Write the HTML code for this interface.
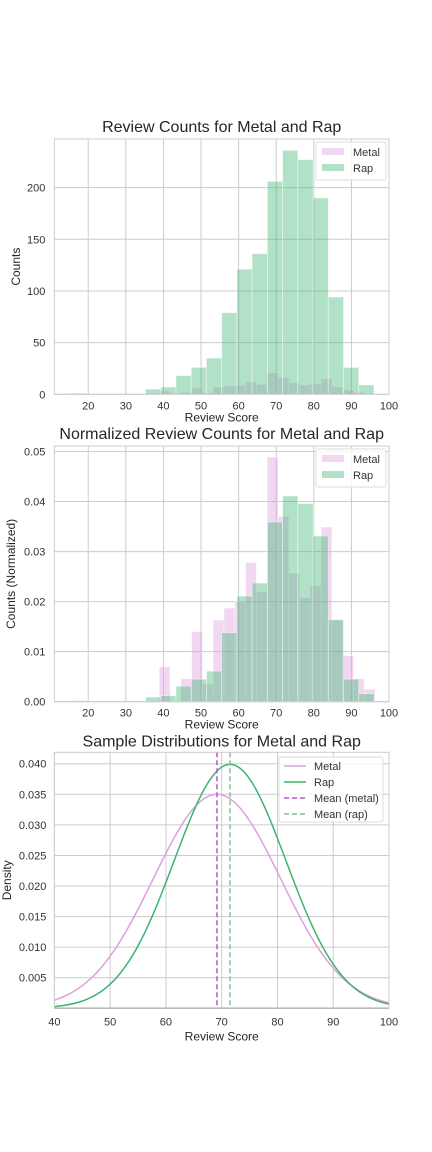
<!DOCTYPE html>
<html><head><meta charset="utf-8"><style>
body{margin:0;background:#fff;}
svg{display:block;font-family:"Liberation Sans",sans-serif;}
</style></head><body>
<svg id="c" width="432" height="1152" viewBox="0 0 432 1152"></svg>
<script>
// ---- data ----
const rapEdgeStart = 15, rapBinW = 4.05;
const rapCounts = [1,0,0,0,0,5,7,18,26,35,79,121,136,206,236,227,190,94,26,9];
const rapDensity = [0.0002,0,0,0,0,0.0009,0.0012,0.0031,0.0045,0.0061,0.0138,0.0211,0.0237,0.0359,0.0411,0.0396,0.0331,0.0164,0.0045,0.0016];
const metalEdgeStart = 38.9, metalBinW = 2.87;
const metalCounts = [3,0,2,6,1.5,7,8,8.6,12,9.5,21,16,11,9,10,15,7,4,2,1];
const metalDensity = [0.007,0,0.0046,0.014,0.0035,0.0163,0.0187,0.02,0.0278,0.022,0.0489,0.037,0.0257,0.0208,0.0232,0.0349,0.0163,0.0092,0.0046,0.0025];
const countTicks = [0,50,100,150,200];
const densTicks = [0,0.01,0.02,0.03,0.04,0.05];
const densTickLabels = ["0.00","0.01","0.02","0.03","0.04","0.05"];
const xTicks1 = [20,30,40,50,60,70,80,90,100];
const xTicks3 = [40,50,60,70,80,90,100];
const pdfTicks = [0.005,0.010,0.015,0.020,0.025,0.030,0.035,0.040];
const pdfTickLabels = ["0.005","0.010","0.015","0.020","0.025","0.030","0.035","0.040"];
const metalMean = 69.15, metalSd = 11.4;
const rapMean = 71.5, rapSd = 10.0;

const svg = document.getElementById('c');
const NS = 'http://www.w3.org/2000/svg';
function el(tag, attrs, parent){const e=document.createElementNS(NS,tag);for(const k in attrs)e.setAttribute(k,attrs[k]);(parent||svg).appendChild(e);return e;}
function txt(s, attrs, parent){const e=el('text',attrs,parent);e.textContent=s;return e;}

const METAL='rgba(221,160,221,0.42)', RAP='rgba(60,179,113,0.40)';
const L=54.4, R=389;

function histChart(o){
  const g=el('g',{});
  
  
  const xs=d=>L+(d-o.xmin)*(R-L)/(o.xmax-o.xmin);
  const ys=v=>o.bot-(v-o.ymin)*(o.bot-o.top)/(o.ymax-o.ymin);
  // grid
  o.xticks.forEach(t=>{const l=el('line',{x1:xs(t),x2:xs(t),y1:o.top,y2:o.bot,stroke:'#cccccc','stroke-width':1},g);
    
    const tl=txt(String(t),{x:xs(t),y:o.bot+15,'text-anchor':'middle','font-size':11,fill:'#333'},g);
    });
  o.yticks.forEach((t,i)=>{const l=el('line',{x1:L,x2:R,y1:ys(t),y2:ys(t),stroke:'#cccccc','stroke-width':1},g);
    
    const tl=txt(o.ylabels[i],{x:L-9,y:ys(t)+4,'text-anchor':'end','font-size':11,fill:'#333'},g);
    });
  // bars
  o.metal.forEach((v,i)=>{if(!v)return;const x0=xs(metalEdgeStart+i*metalBinW),x1=xs(metalEdgeStart+(i+1)*metalBinW);
    const b=el('rect',{x:x0,y:ys(v),width:x1-x0,height:ys(0)-ys(v),fill:METAL,stroke:'rgba(255,255,255,0.5)','stroke-width':0.8},g);
    });
  o.rap.forEach((v,i)=>{if(!v)return;const x0=xs(rapEdgeStart+i*rapBinW),x1=xs(rapEdgeStart+(i+1)*rapBinW);
    const b=el('rect',{x:x0,y:ys(v),width:x1-x0,height:ys(0)-ys(v),fill:RAP,stroke:'rgba(255,255,255,0.5)','stroke-width':0.8},g);
    });
  const fr=el('rect',{x:L,y:o.top,width:R-L,height:o.bot-o.top,fill:'none',stroke:'#cccccc','stroke-width':1},g);
  
  const tt=txt(o.title,{x:(L+R)/2,y:o.top-7,'text-anchor':'middle','font-size':16,fill:'#262626'},g);
  
  const xl=txt('Review Score',{x:(L+R)/2,y:o.bot+27,'text-anchor':'middle','font-size':12,fill:'#262626'},g);
  
  const cy=(o.top+o.bot)/2;
  const yl=txt(o.ylabel,{x:o.ylx,y:cy,'text-anchor':'middle','font-size':12,fill:'#262626',transform:`rotate(-90 ${o.ylx} ${cy})`},g);
  
  // legend
  const lg=el('g',{},g);
  el('rect',{x:316,y:o.top+3,width:70,height:38,rx:2,fill:'rgba(255,255,255,0.8)',stroke:'#dddddd'},lg);
  [['Metal',METAL],['Rap',RAP]].forEach((e,i)=>{
    const it=el('g',{},lg);
    el('rect',{x:322,y:o.top+9+i*16,width:22,height:7,fill:e[1]},it);
    txt(e[0],{x:353,y:o.top+17+i*16,'font-size':11,fill:'#333'},it);});
}
histChart({name:'review-counts-chart',title:'Review Counts for Metal and Rap',top:139,bot:394.3,xmin:11,xmax:100,ymin:0,ymax:247,
  xticks:xTicks1,yticks:countTicks,ylabels:countTicks.map(String),metal:metalCounts,rap:rapCounts,ylabel:'Counts',ylx:20});
histChart({name:'normalized-counts-chart',title:'Normalized Review Counts for Metal and Rap',top:446,bot:701.7,xmin:11,xmax:100,ymin:0,ymax:0.0511,
  xticks:xTicks1,yticks:densTicks,ylabels:densTickLabels,metal:metalDensity,rap:rapDensity,ylabel:'Counts (Normalized)',ylx:15});

// chart 3
(function(){
  const g=el('g',{});
  const top=752.3,bot=1008.3;
  const xs=d=>L+(d-40)*(R-L)/60;
  const ys=v=>1008.3-v*6114;
  xTicks3.forEach(t=>{const l=el('line',{x1:xs(t),x2:xs(t),y1:top,y2:bot,stroke:'#cccccc'},g);
    
    const tl=txt(String(t),{x:xs(t),y:bot+17,'text-anchor':'middle','font-size':11,fill:'#333'},g);
    });
  pdfTicks.forEach((t,i)=>{const l=el('line',{x1:L,x2:R,y1:ys(t),y2:ys(t),stroke:'#cccccc'},g);
    
    const tl=txt(pdfTickLabels[i],{x:L-8,y:ys(t)+4,'text-anchor':'end','font-size':11,fill:'#333'},g);
    });
  const pdf=(x,m,s)=>Math.exp(-0.5*((x-m)/s)**2)/(s*Math.sqrt(2*Math.PI));
  function curve(m,s,col,name){let d='';for(let x=40;x<=100.001;x+=0.25){d+=(d?'L':'M')+xs(x).toFixed(2)+','+ys(pdf(x,m,s)).toFixed(2);}
    const p=el('path',{d:d,fill:'none',stroke:col,'stroke-width':1.5},g);}
  curve(metalMean,metalSd,'#dda0dd','metal-curve');
  curve(rapMean,rapSd,'#3cb371','rap-curve');
  const m1=el('line',{x1:xs(metalMean),x2:xs(metalMean),y1:top,y2:bot,stroke:'#ba55d3','stroke-width':1.5,'stroke-dasharray':'5,3'},g);
  
  const m2=el('line',{x1:xs(rapMean),x2:xs(rapMean),y1:top,y2:bot,stroke:'#8fbc8f','stroke-width':1.5,'stroke-dasharray':'5,3'},g);
  
  const z=el('line',{x1:L,x2:R,y1:ys(0),y2:ys(0),stroke:'#333','stroke-width':1.2},g);
  
  const fr=el('rect',{x:L,y:top,width:R-L,height:bot-top,fill:'none',stroke:'#cccccc'},g);
  
  const tt=txt('Sample Distributions for Metal and Rap',{x:(L+R)/2,y:top-6,'text-anchor':'middle','font-size':16,fill:'#262626'},g);
  
  const xl=txt('Review Score',{x:(L+R)/2,y:bot+32,'text-anchor':'middle','font-size':12,fill:'#262626'},g);
  
  const cy=(top+bot)/2;
  const yl=txt('Density',{x:11,y:cy,'text-anchor':'middle','font-size':12,fill:'#262626',transform:`rotate(-90 11 ${cy})`},g);
  
  const lg=el('g',{},g);
  el('rect',{x:279,y:757,width:104,height:65,rx:2,fill:'rgba(255,255,255,0.8)',stroke:'#dddddd'},lg);
  [['Metal','#dda0dd',''],['Rap','#3cb371',''],['Mean (metal)','#ba55d3','5,3'],['Mean (rap)','#8fbc8f','5,3']].forEach((e,i)=>{
    const it=el('g',{},lg);
    const yy=766+i*16;
    el('line',{x1:284,x2:306,y1:yy,y2:yy,stroke:e[1],'stroke-width':1.5,'stroke-dasharray':e[2]||'none'},it);
    txt(e[0],{x:314,y:yy+4,'font-size':11,fill:'#333'},it);});
})();
</script>
</body></html>
